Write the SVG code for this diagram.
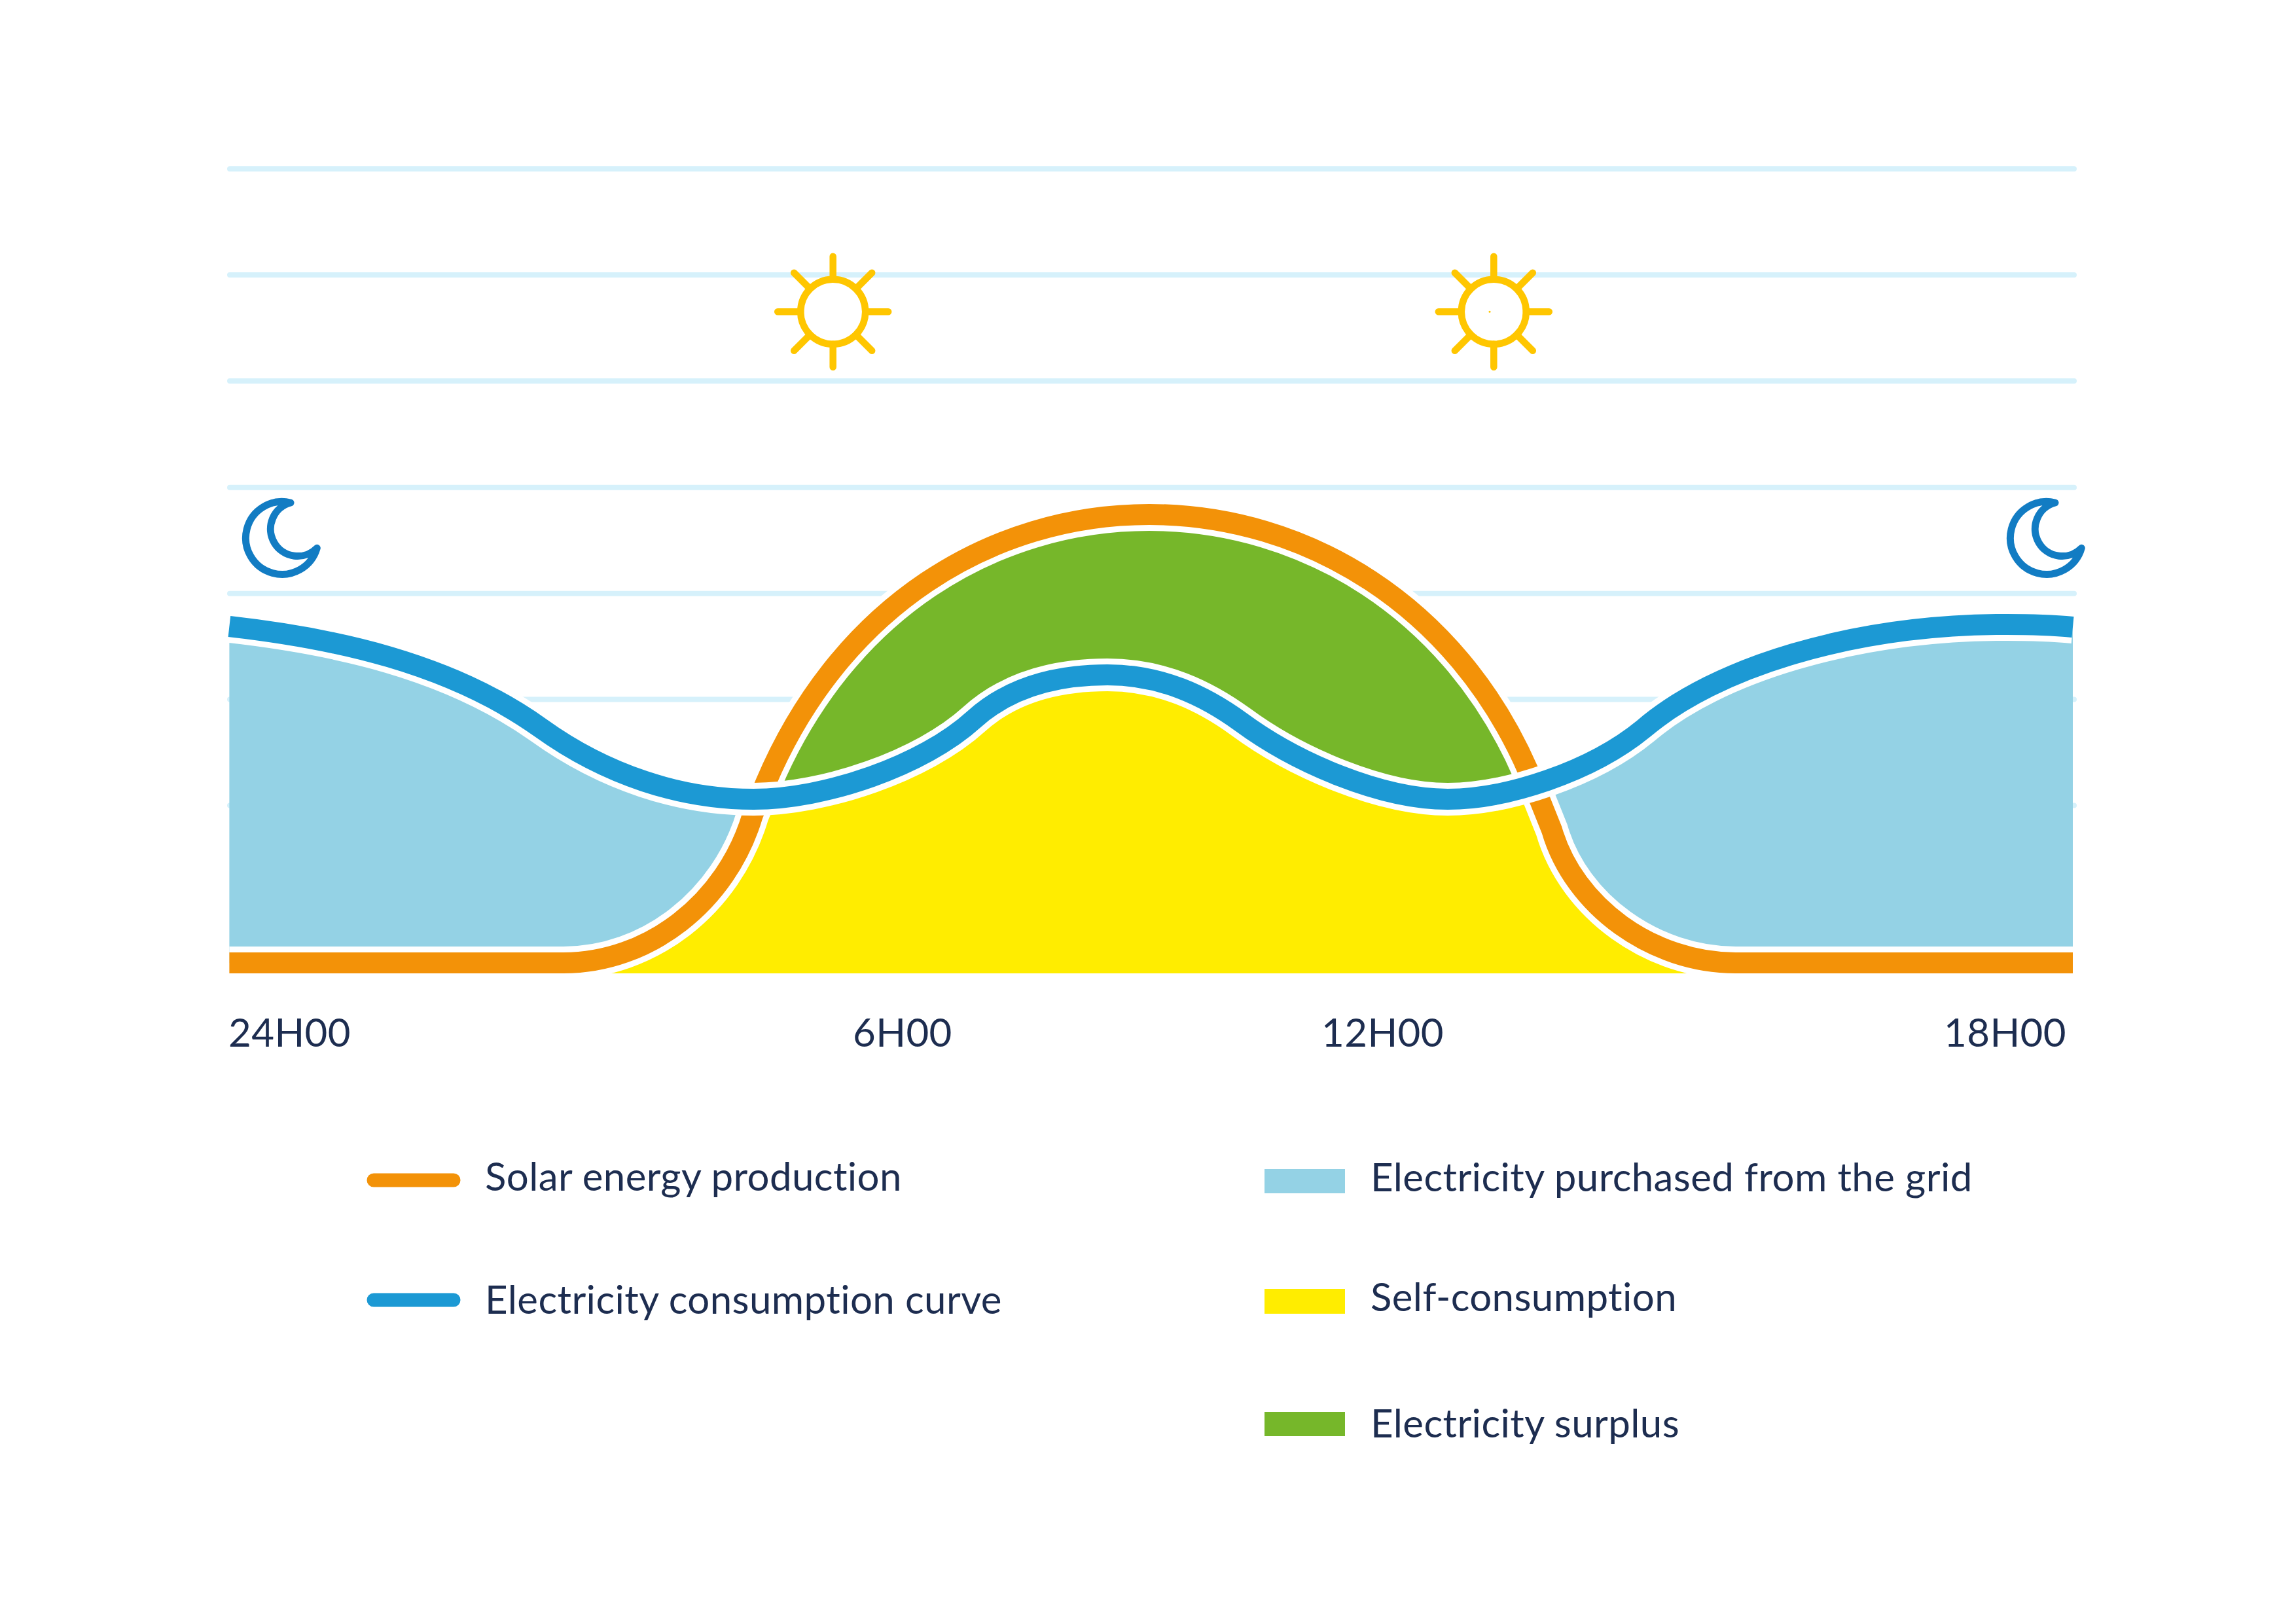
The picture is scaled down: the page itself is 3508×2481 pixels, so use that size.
<svg xmlns="http://www.w3.org/2000/svg" width="3508" height="2481" viewBox="0 0 3508 2481">
<style>
.grid{stroke:#d6f1fb;stroke-width:8;stroke-linecap:round;fill:none}
.cas{stroke:#fff;stroke-width:50;fill:none}
.or{stroke:#f39208;stroke-width:32;fill:none}
.bl{stroke:#1c99d4;stroke-width:32;fill:none}
.lb{fill:#94d2e5}.ye{fill:#ffed00}.gr{fill:#76b72a}
.sun{stroke:#ffc600;stroke-width:10.5;stroke-linecap:round;fill:none}
.moon{stroke:#127cc3;stroke-width:11;stroke-linecap:round;stroke-linejoin:round;fill:none}
text{font-family:"Lato","Noto Sans",sans-serif;font-size:60px;letter-spacing:0.4px;font-variant-ligatures:none;fill:#1d2d50}
</style>
<defs>
<path id="orangeCurve" d="M350.4 1471H861C990 1471 1110 1380 1150 1245L1170 1196C1285 925 1515 786 1756 786C1996 786 2225 925 2335 1178L2371 1268C2405 1385 2525 1471 2652 1471H3167"/>
<path id="blueCurve" d="M350.4 957C510 975 686 1012 826 1112C926 1184 1040 1221 1151.4 1221C1260 1221 1410 1170 1488 1099C1540 1052 1610 1031 1692 1031C1775 1031 1841 1063 1896 1103C1980 1165 2110 1221 2212 1221C2300 1221 2430 1180 2511.5 1113C2620 1020 2830 954 3066 954C3100 954 3135 955 3167 958"/>
<g id="sunShape">
<circle cx="0" cy="0" r="49.5"/>
<path d="M0-49.5V-84.5M0 49.5V84.5M-49.5 0H-84.5M49.5 0H84.5M-35-35L-59.5-59.5M35-35L59.5-59.5M-35 35L-59.5 59.5M35 35L59.5 59.5"/>
</g>
<path id="moonShape" d="M444 768A55.5 55.5 0 1 0 484.3 837.3A41.5 41.5 0 1 1 444 768Z"/>
</defs>
<g id="grid" class="grid">
<path d="M351 258H3169M351 420H3169M351 582H3169M351 744.8H3169M351 906.7H3169M351 1068.6H3169M351 1230.5H3169"/>
</g>
<g id="areas">
<path id="grid-left" class="lb" d="M350.4 957C510 975 686 1012 826 1112C926 1184 1040 1221 1151.4 1221L1150 1245C1110 1380 990 1471 861 1471H350.4Z"/>
<path id="self-consumption" class="ye" d="M1151.4 1221C1260 1221 1410 1170 1488 1099C1540 1052 1610 1031 1692 1031C1775 1031 1841 1063 1896 1103C1980 1165 2110 1221 2212 1221C2251.6 1221 2299.7 1212.7 2348 1197.5L2371 1268C2405 1385 2525 1471 2652 1471V1487H861V1471C990 1471 1110 1380 1150 1245Z"/>
<path id="surplus" class="gr" d="M1151.4 1221L1170 1196C1285 925 1515 786 1756 786C1996 786 2225 925 2335 1178L2348 1197.5C2299.7 1212.7 2251.6 1221 2212 1221C2110 1221 1980 1165 1896 1103C1841 1063 1775 1031 1692 1031C1610 1031 1540 1052 1488 1099C1410 1170 1260 1221 1151.4 1221Z"/>
<path id="grid-right" class="lb" d="M2348 1197.5C2407.2 1178.9 2466.7 1149.9 2511.5 1113C2620 1020 2830 954 3066 954C3100 954 3135 955 3167 958V1471H2652C2525 1471 2405 1385 2371 1268Z"/>
</g>
<g id="connectors">
<use href="#orangeCurve" class="cas"/>
<use href="#orangeCurve" class="or"/>
<use href="#blueCurve" class="cas"/>
<use href="#blueCurve" class="bl"/>
</g>
<g id="sun-1" class="sun"><use href="#sunShape" x="1272.7" y="476.3"/></g>
<g id="sun-2" class="sun"><use href="#sunShape" x="2282.3" y="476.3"/><circle cx="2276" cy="476.3" r="1.5" fill="#ffc600" stroke="none"/></g>
<g id="moon-1" class="moon"><use href="#moonShape"/></g>
<g id="moon-2" class="moon"><use href="#moonShape" x="2696"/></g>
<g id="axis-labels">
<text x="349" y="1599">24H00</text>
<text x="1303" y="1599">6H00</text>
<text x="2019" y="1599">12H00</text>
<text x="2970" y="1599">18H00</text>
</g>
<g id="legend-solar"><rect x="560.5" y="1792.5" width="143" height="21" rx="10.5" fill="#f39208"/><text x="741" y="1819">Solar energy production</text></g>
<g id="legend-consumption"><rect x="560.5" y="1975.5" width="143" height="21" rx="10.5" fill="#1c99d4"/><text x="741" y="2007">Electricity consumption curve</text></g>
<g id="legend-grid"><rect class="lb" x="1932" y="1786" width="123" height="37"/><text x="2094" y="1820">Electricity purchased from the grid</text></g>
<g id="legend-self"><rect class="ye" x="1932" y="1969" width="123" height="38"/><text x="2094" y="2003">Self-consumption</text></g>
<g id="legend-surplus"><rect class="gr" x="1932" y="2157" width="123" height="37"/><text x="2094" y="2196">Electricity surplus</text></g>
</svg>
